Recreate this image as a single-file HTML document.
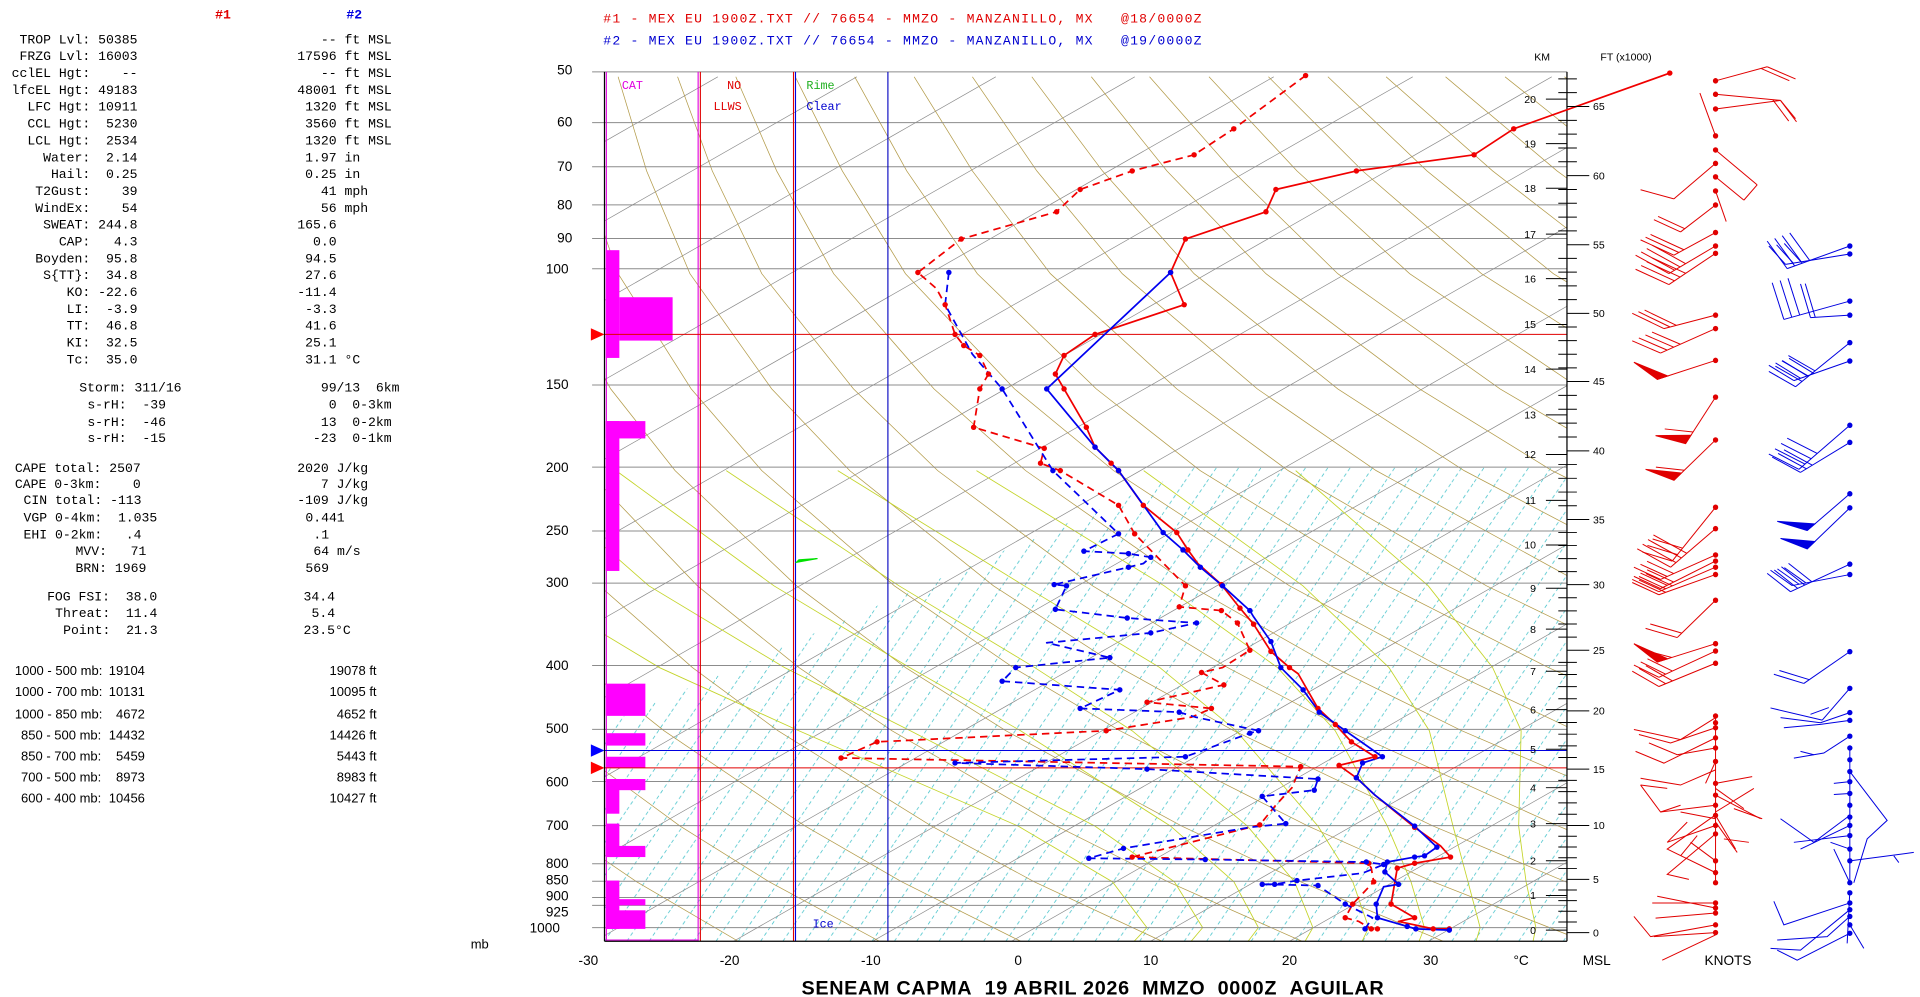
<!DOCTYPE html>
<html><head><meta charset="utf-8"><style>
html,body{margin:0;padding:0;background:#fff;}
svg{display:block}
.m{font-family:"Liberation Mono",monospace;font-size:10.6px;fill:#000}
.s{font-family:"Liberation Sans",sans-serif;font-size:10.5px;fill:#000}
.ax{font-family:"Liberation Sans",sans-serif;font-size:11px;fill:#000}
.sm{font-family:"Liberation Sans",sans-serif;font-size:8.5px;fill:#000}
.r line,.r polyline,.r polygon{vector-effect:non-scaling-stroke;stroke:#e00000;stroke-width:1;fill:none}
.b line,.b polyline,.b polygon{vector-effect:non-scaling-stroke;stroke:#0000e0;stroke-width:1;fill:none}
.r polygon{fill:#e00000}.b polygon{fill:#0000e0}
.r ellipse{fill:#e00000}.b ellipse{fill:#0000e0}
</style></head><body>
<svg xmlns="http://www.w3.org/2000/svg" width="1920" height="997" viewBox="0 0 1550 805" preserveAspectRatio="none">
<defs>
<clipPath id="pc"><rect x="488" y="58" width="777" height="702"/></clipPath>
<pattern id="mix" patternUnits="userSpaceOnUse" x="488" y="760" width="18" height="26.47">
<line x1="0" y1="26.47" x2="18" y2="0" stroke="#3cc0c8" stroke-width="0.6" stroke-dasharray="3,2.5"/>
</pattern>
</defs>
<rect x="0" y="0" width="1550" height="805" fill="#fff"/>

<!-- left panel -->
<text x="180" y="15" class="m" style="fill:#e00000;font-weight:bold" text-anchor="middle">#1</text>
<text x="286" y="15" class="m" style="fill:#0000e0;font-weight:bold" text-anchor="middle">#2</text>
<g class="m" text-anchor="end">
<text x="111" y="35">TROP Lvl: 50385</text>
<text x="111" y="48.6">FRZG Lvl: 16003</text>
<text x="111" y="62.2">cclEL Hgt:&#160;&#160;&#160;&#160;--</text>
<text x="111" y="75.8">lfcEL Hgt: 49183</text>
<text x="111" y="89.4">LFC Hgt: 10911</text>
<text x="111" y="103">CCL Hgt:&#160;&#160;5230</text>
<text x="111" y="116.6">LCL Hgt:&#160;&#160;2534</text>
<text x="111" y="130.2">Water:&#160;&#160;2.14</text>
<text x="111" y="143.8">Hail:&#160;&#160;0.25</text>
<text x="111" y="157.4">T2Gust:&#160;&#160;&#160;&#160;39</text>
<text x="111" y="171">WindEx:&#160;&#160;&#160;&#160;54</text>
<text x="111" y="184.6">SWEAT: 244.8</text>
<text x="111" y="198.2">CAP:&#160;&#160;&#160;4.3</text>
<text x="111" y="211.8">Boyden:&#160;&#160;95.8</text>
<text x="111" y="225.4">S{TT}:&#160;&#160;34.8</text>
<text x="111" y="239">KO: -22.6</text>
<text x="111" y="252.6">LI:&#160;&#160;-3.9</text>
<text x="111" y="266.2">TT:&#160;&#160;46.8</text>
<text x="111" y="279.8">KI:&#160;&#160;32.5</text>
<text x="111" y="293.4">Tc:&#160;&#160;35.0</text>
</g>
<g class="m">
<text x="240" y="35">&#160;&#160;&#160;-- ft MSL</text>
<text x="240" y="48.6">17596 ft MSL</text>
<text x="240" y="62.2">&#160;&#160;&#160;-- ft MSL</text>
<text x="240" y="75.8">48001 ft MSL</text>
<text x="240" y="89.4">&#160;1320 ft MSL</text>
<text x="240" y="103">&#160;3560 ft MSL</text>
<text x="240" y="116.6">&#160;1320 ft MSL</text>
<text x="240" y="130.2">&#160;1.97 in</text>
<text x="240" y="143.8">&#160;0.25 in</text>
<text x="240" y="157.4">&#160;&#160;&#160;41 mph</text>
<text x="240" y="171">&#160;&#160;&#160;56 mph</text>
<text x="240" y="184.6">165.6</text>
<text x="240" y="198.2">&#160;&#160;0.0</text>
<text x="240" y="211.8">&#160;94.5</text>
<text x="240" y="225.4">&#160;27.6</text>
<text x="240" y="239">-11.4</text>
<text x="240" y="252.6">&#160;-3.3</text>
<text x="240" y="266.2">&#160;41.6</text>
<text x="240" y="279.8">&#160;25.1</text>
<text x="240" y="293.4">&#160;31.1 °C</text>

<text x="64" y="316">Storm: 311/16</text>
<text x="70.5" y="330">s-rH:&#160;&#160;-39</text>
<text x="70.5" y="344">s-rH:&#160;&#160;-46</text>
<text x="70.5" y="357">s-rH:&#160;&#160;-15</text>
<text x="259" y="316">99/13&#160;&#160;6km</text>
<text x="259" y="330">&#160;0&#160;&#160;0-3km</text>
<text x="259" y="344">13&#160;&#160;0-2km</text>
<text x="252.6" y="357">-23&#160;&#160;0-1km</text>

<text x="12" y="381">CAPE total: 2507</text>
<text x="12" y="394">CAPE 0-3km:&#160;&#160;&#160;&#160;0</text>
<text x="19" y="407">CIN total: -113</text>
<text x="19" y="421">VGP 0-4km:&#160;&#160;1.035</text>
<text x="19" y="435">EHI 0-2km:&#160;&#160;&#160;.4</text>
<text x="61" y="448">MVV:&#160;&#160;&#160;71</text>
<text x="61" y="462">BRN: 1969</text>
<text x="240" y="381">2020 J/kg</text>
<text x="240" y="394">&#160;&#160;&#160;7 J/kg</text>
<text x="240" y="407">-109 J/kg</text>
<text x="246.5" y="421">0.441</text>
<text x="253" y="435">.1</text>
<text x="253" y="448">64 m/s</text>
<text x="246.5" y="462">569</text>

<text x="38" y="485">FOG FSI:&#160;&#160;38.0</text>
<text x="44.5" y="498">Threat:&#160;&#160;11.4</text>
<text x="51" y="512">Point:&#160;&#160;21.3</text>
<text x="245" y="485">34.4</text>
<text x="251.5" y="498">5.4</text>
<text x="245" y="512">23.5°C</text>
</g>
<g class="s">
<text x="12" y="545">1000 - 500 mb:</text><text x="117" y="545" text-anchor="end">19104</text><text x="304" y="545" text-anchor="end">19078 ft</text>
<text x="12" y="562">1000 - 700 mb:</text><text x="117" y="562" text-anchor="end">10131</text><text x="304" y="562" text-anchor="end">10095 ft</text>
<text x="12" y="580">1000 - 850 mb:</text><text x="117" y="580" text-anchor="end">4672</text><text x="304" y="580" text-anchor="end">4652 ft</text>
<text x="17" y="597">850 - 500 mb:</text><text x="117" y="597" text-anchor="end">14432</text><text x="304" y="597" text-anchor="end">14426 ft</text>
<text x="17" y="614">850 - 700 mb:</text><text x="117" y="614" text-anchor="end">5459</text><text x="304" y="614" text-anchor="end">5443 ft</text>
<text x="17" y="631">700 - 500 mb:</text><text x="117" y="631" text-anchor="end">8973</text><text x="304" y="631" text-anchor="end">8983 ft</text>
<text x="17" y="648">600 - 400 mb:</text><text x="117" y="648" text-anchor="end">10456</text><text x="304" y="648" text-anchor="end">10427 ft</text>
</g>
<text x="380" y="766" class="s">mb</text>

<!-- headers -->
<text x="487" y="18" class="m" style="fill:#e00000" textLength="483">#1 - MEX EU 1900Z.TXT // 76654 - MMZO - MANZANILLO, MX&#160;&#160;&#160;@18/0000Z</text>
<text x="487" y="36" class="m" style="fill:#0000d0" textLength="483">#2 - MEX EU 1900Z.TXT // 76654 - MMZO - MANZANILLO, MX&#160;&#160;&#160;@19/0000Z</text>

<!-- background grid -->
<g clip-path="url(#pc)">
<polygon points="488,585 966,377 1265,377 1265,760 488,760" fill="url(#mix)"/>
<g stroke="#8a8a8a" stroke-width="0.55">
<line x1="-305.4" y1="760" x2="916.1" y2="62"/>
<line x1="-193.2" y1="760" x2="1028.3" y2="62"/>
<line x1="-81" y1="760" x2="1140.5" y2="62"/>
<line x1="31.2" y1="760" x2="1252.7" y2="62"/>
<line x1="143.4" y1="760" x2="1364.9" y2="62"/>
<line x1="255.6" y1="760" x2="1477.1" y2="62"/>
<line x1="367.8" y1="760" x2="1589.3" y2="62"/>
<line x1="480" y1="760" x2="1701.5" y2="62"/>
<line x1="592.2" y1="760" x2="1813.7" y2="62"/>
<line x1="704.4" y1="760" x2="1925.9" y2="62"/>
<line x1="816.6" y1="760" x2="2038.1" y2="62"/>
<line x1="928.8" y1="760" x2="2150.3" y2="62"/>
<line x1="1041" y1="760" x2="2262.5" y2="62"/>
<line x1="1153.2" y1="760" x2="2374.7" y2="62"/>
<line x1="1265.4" y1="760" x2="2486.9" y2="62"/>
<line x1="-417.6" y1="760" x2="803.9" y2="62"/>
<line x1="-529.8" y1="760" x2="691.7" y2="62"/>
<line x1="-642" y1="760" x2="579.5" y2="62"/>
<line x1="-754.2" y1="760" x2="467.3" y2="62"/>
</g>
<g stroke="#b39b4a" stroke-width="0.6" fill="none">
<polyline points="596,760 514,712 448,667 352,590 300,539 245,473 191,380 166,314 150,221 155,138 165,62"/>
<polyline points="710,760 621,712 549,667 444,590 386,539 324,473 261,380 232,314 209,221 207,138 213,62"/>
<polyline points="824,760 728,712 650,667 536,590 472,539 404,473 332,380 297,314 267,221 260,138 260,62"/>
<polyline points="938,760 835,712 752,667 628,590 559,539 484,473 403,380 362,314 325,221 312,138 308,62"/>
<polyline points="1051,760 943,712 853,667 720,590 645,539 563,473 474,380 428,314 383,221 365,138 356,62"/>
<polyline points="1165,760 1050,712 954,667 812,590 731,539 643,473 545,380 493,314 441,221 417,138 404,62"/>
<polyline points="1279,760 1157,712 1056,667 904,590 818,539 722,473 615,380 558,314 499,221 470,138 451,62"/>
<polyline points="1393,760 1264,712 1157,667 996,590 904,539 802,473 686,380 623,314 557,221 522,138 499,62"/>
<polyline points="1507,760 1371,712 1258,667 1088,590 991,539 882,473 757,380 689,314 615,221 575,138 547,62"/>
<polyline points="1620,760 1478,712 1359,667 1180,590 1077,539 961,473 828,380 754,314 673,221 627,138 594,62"/>
<polyline points="1461,667 1272,590 1164,539 1041,473 899,380 819,314 731,221 680,138 642,62"/>
<polyline points="1364,590 1250,539 1120,473 969,380 885,314 789,221 732,138 690,62"/>
<polyline points="1456,590 1336,539 1200,473 1040,380 950,314 848,221 785,138 738,62"/>
<polyline points="1423,539 1280,473 1111,380 1015,314 906,221 837,138 785,62"/>
<polyline points="1509,539 1359,473 1182,380 1080,314 964,221 890,138 833,62"/>
<polyline points="1439,473 1253,380 1146,314 1022,221 942,138 881,62"/>
<polyline points="1518,473 1323,380 1211,314 1080,221 995,138 928,62"/>
<polyline points="1394,380 1276,314 1138,221 1047,138 976,62"/>
<polyline points="1465,380 1342,314 1196,221 1100,138 1024,62"/>
<polyline points="1407,314 1254,221 1152,138 1072,62"/>
<polyline points="1472,314 1312,221 1205,138 1119,62"/>
<polyline points="1370,221 1257,138 1167,62"/>
<polyline points="1428,221 1310,138 1215,62"/>
<polyline points="1486,221 1362,138 1263,62"/>
</g>
<g stroke="#c4d42a" stroke-width="0.7" fill="none">
<polyline points="1237.6,760 1239.9,749 1232,712 1226,667 1228,590 1205,539 1153,473 1046,380"/>
<polyline points="1191.6,760 1194.9,749 1185.1,712 1173,667 1153.9,590 1121.3,539 1051.8,473 923.3,380"/>
<polyline points="1145.6,760 1149.9,749 1139.1,712 1120,667 1077.9,590 1031.3,539 939.8,473 788.3,380"/>
<polyline points="1099.6,760 1104.9,749 1092.1,712 1064,667 997.9,590 936.3,539 826.8,473 676.3,380"/>
<polyline points="1053.6,760 1059.9,749 1045.1,712 1007,667 913.9,590 835.3,539 725.8,473 586.3,380"/>
<polyline points="1007.6,760 1015.9,749 996.1,712 945,667 823.9,590 734.3,539 624.8,473 497.3,380"/>
<polyline points="961.6,760 970.9,749 948.1,712 884,667 734.9,590 633.3,539 523.8,473 418,380"/>
<polyline points="915.6,760 925.9,749 898.1,712 822,667 644.9,590 532.3,539 422.8,473"/>
</g>
</g>

<!-- pressure lines -->
<g stroke="#8c8c8c" stroke-width="0.8">
<line x1="478" y1="58" x2="1265" y2="58"/><line x1="478" y1="99" x2="1265" y2="99"/>
<line x1="478" y1="134.6" x2="1265" y2="134.6"/><line x1="478" y1="165.4" x2="1265" y2="165.4"/>
<line x1="478" y1="192.6" x2="1265" y2="192.6"/><line x1="478" y1="217" x2="1265" y2="217"/>
<line x1="478" y1="310.9" x2="1265" y2="310.9"/><line x1="478" y1="377.2" x2="1265" y2="377.2"/>
<line x1="478" y1="428.7" x2="1265" y2="428.7"/><line x1="478" y1="470.8" x2="1265" y2="470.8"/>
<line x1="478" y1="537.3" x2="1265" y2="537.3"/><line x1="478" y1="588.9" x2="1265" y2="588.9"/>
<line x1="478" y1="631" x2="1265" y2="631"/><line x1="478" y1="666.6" x2="1265" y2="666.6"/>
<line x1="478" y1="697.4" x2="1265" y2="697.4"/><line x1="478" y1="711.5" x2="1265" y2="711.5"/>
<line x1="478" y1="724.7" x2="1265" y2="724.7"/><line x1="478" y1="731" x2="1265" y2="731"/>
<line x1="478" y1="749" x2="1265" y2="749"/>
</g>
<g class="ax" text-anchor="end">
<text x="462" y="60">50</text><text x="462" y="102">60</text><text x="462" y="138">70</text>
<text x="462" y="169">80</text><text x="462" y="196">90</text><text x="459" y="221">100</text>
<text x="459" y="314">150</text><text x="459" y="381">200</text><text x="459" y="432">250</text>
<text x="459" y="474">300</text><text x="459" y="541">400</text><text x="459" y="592">500</text>
<text x="459" y="635">600</text><text x="459" y="670">700</text><text x="459" y="701">800</text>
<text x="459" y="714">850</text><text x="459" y="727">900</text><text x="459" y="740">925</text>
<text x="452" y="753">1000</text>
</g>

<!-- strip -->
<rect x="488" y="58" width="777" height="0.01" fill="none"/>
<g stroke-width="0.9">
<line x1="489.5" y1="58" x2="489.5" y2="760" stroke="#e000e0"/>
<line x1="563.6" y1="58" x2="563.6" y2="760" stroke="#e000e0"/>
<line x1="565.4" y1="58" x2="565.4" y2="760" stroke="#e00000"/>
<line x1="640.6" y1="58" x2="640.6" y2="760" stroke="#e00000"/>
<line x1="642.2" y1="58" x2="642.2" y2="760" stroke="#0000e0"/>
<line x1="716.8" y1="58" x2="716.8" y2="760" stroke="#0000c0"/>
<line x1="489" y1="759" x2="564" y2="759" stroke="#e000e0"/>
</g>
<g fill="#ff00ff">
<rect x="489" y="202" width="11" height="87"/>
<rect x="500" y="240" width="43" height="35"/>
<rect x="489" y="340" width="32" height="14"/>
<rect x="489" y="340" width="11" height="121"/>
<rect x="489" y="552" width="32" height="26"/>
<rect x="489" y="592" width="32" height="10"/>
<rect x="489" y="611" width="32" height="9"/>
<rect x="489" y="629" width="32" height="9"/>
<rect x="489" y="629" width="11" height="28"/>
<rect x="489" y="665" width="11" height="27"/>
<rect x="489" y="683" width="32" height="9"/>
<rect x="489" y="711" width="11" height="39"/>
<rect x="489" y="726" width="32" height="5"/>
<rect x="489" y="735" width="32" height="15"/>
</g>
<text x="502" y="72" class="m" style="fill:#e000e0;font-size:9.5px">CAT</text>
<text x="587" y="72" class="m" style="fill:#e00000;font-size:9.5px">NO</text>
<text x="576" y="89" class="m" style="fill:#e00000;font-size:9.5px">LLWS</text>
<text x="651" y="72" class="m" style="fill:#20b020;font-size:9.5px">Rime</text>
<text x="651" y="89" class="m" style="fill:#0000d0;font-size:9.5px">Clear</text>
<text x="656" y="749" class="m" style="fill:#0000d0;font-size:9.5px">Ice</text>
<polygon points="643,454 660,451 645,452" fill="#00e000" stroke="#00e000" stroke-width="1"/>

<!-- markers -->
<line x1="488" y1="270" x2="1265" y2="270" stroke="#e00000" stroke-width="0.8"/>
<line x1="488" y1="606" x2="1265" y2="606" stroke="#0000e0" stroke-width="0.8"/>
<line x1="488" y1="620" x2="1265" y2="620" stroke="#e00000" stroke-width="0.8"/>
<polygon points="477,265 488,270 477,275" fill="#ff0000"/>
<polygon points="477,601 488,606 477,611" fill="#0000ff"/>
<polygon points="477,615 488,620 477,625" fill="#ff0000"/>

<!-- frame -->
<line x1="488" y1="58" x2="488" y2="760" stroke="#000" stroke-width="1"/>
<line x1="488" y1="760" x2="1265" y2="760" stroke="#000" stroke-width="1"/>
<line x1="1265" y1="58" x2="1265" y2="760" stroke="#000" stroke-width="1"/>

<!-- traces -->
<g fill="none" stroke-width="1.4" stroke-linejoin="round">
<polyline stroke="#f00000" stroke-dasharray="6,4" points="1054,61 996,104 964,125 914,138 872,153 853,171 776,193 741,220 756,233 763,246 771,270 778,279 791,287 798,302 791,314 786,345 843,362 840,374 856,380 903,408 916,431 957,473 952,490 986,493 999,503 1009,525 987,539 970,543 988,553 926,567 978,572 962,579 893,590 708,599 679,612 1050,619 1043,636 1030,650 1017,666 914,692 1105,697 1107,701 1109,712 1092,730 1086,741 1097,744 1107,750 1112,750"/>
<polyline stroke="#0000f0" stroke-dasharray="6,4" points="766,220 763,246 785,286 809,314 850,380 903,431 875,445 911,447 929,450 923,455 911,458 851,472 861,473 852,492 910,499 966,503 929,511 845,519 896,531 820,539 809,550 904,557 872,572 952,575 965,579 1016,590 1009,592 957,611 771,616 926,621 1064,629 1061,638 1019,643 1038,665 1009,668 907,685 879,693 973,694 1103,696 1117,698 1100,705 1047,711 1029,714 1019,714 1064,715 1086,730 1108,741 1102,750"/>
<polyline stroke="#f00000" points="1348,59 1222,104 1190,125 1095,138 1030,153 1022,171 957,193 945,220 956,246 884,270 859,287 852,302 859,314 877,345 884,361 897,374 903,380 923,408 950,430 959,444 967,455 986,472 1001,491 1012,504 1026,526 1041,539 1048,544 1064,572 1078,585 1091,599 1110,611 1081,618 1095,628 1110,642 1142,668 1163,683 1171,692 1142,697 1128,701 1123,730 1142,741 1129,744 1157,750 1170,750"/>
<polyline stroke="#0000f0" points="945,220 845,314 884,361 903,380 939,430 955,444 969,458 987,473 1009,493 1012,498 1026,518 1034,539 1052,557 1065,575 1086,590 1116,611 1100,616 1095,628 1110,642 1142,667 1160,684 1150,691 1142,692 1120,696 1118,704 1129,714 1117,716 1111,730 1112,741 1136,748 1143,750 1170,751"/>
</g>
<g fill="#f00000">
<circle cx="1054" cy="61" r="2.2"/><circle cx="996" cy="104" r="2.2"/><circle cx="964" cy="125" r="2.2"/><circle cx="914" cy="138" r="2.2"/><circle cx="872" cy="153" r="2.2"/><circle cx="853" cy="171" r="2.2"/><circle cx="776" cy="193" r="2.2"/><circle cx="741" cy="220" r="2.2"/><circle cx="763" cy="246" r="2.2"/><circle cx="771" cy="270" r="2.2"/><circle cx="778" cy="279" r="2.2"/><circle cx="791" cy="287" r="2.2"/><circle cx="798" cy="302" r="2.2"/><circle cx="791" cy="314" r="2.2"/><circle cx="786" cy="345" r="2.2"/><circle cx="843" cy="362" r="2.2"/><circle cx="840" cy="374" r="2.2"/><circle cx="856" cy="380" r="2.2"/><circle cx="903" cy="408" r="2.2"/><circle cx="916" cy="431" r="2.2"/><circle cx="957" cy="473" r="2.2"/><circle cx="952" cy="490" r="2.2"/><circle cx="986" cy="493" r="2.2"/><circle cx="999" cy="503" r="2.2"/><circle cx="1009" cy="525" r="2.2"/><circle cx="970" cy="543" r="2.2"/><circle cx="988" cy="553" r="2.2"/><circle cx="926" cy="567" r="2.2"/><circle cx="978" cy="572" r="2.2"/><circle cx="893" cy="590" r="2.2"/><circle cx="708" cy="599" r="2.2"/><circle cx="679" cy="612" r="2.2"/><circle cx="1050" cy="619" r="2.2"/><circle cx="1017" cy="666" r="2.2"/><circle cx="914" cy="692" r="2.2"/><circle cx="1105" cy="697" r="2.2"/><circle cx="1109" cy="712" r="2.2"/><circle cx="1092" cy="730" r="2.2"/><circle cx="1086" cy="741" r="2.2"/><circle cx="1107" cy="750" r="2.2"/><circle cx="1112" cy="750" r="2.2"/>
<circle cx="1348" cy="59" r="2.2"/><circle cx="1222" cy="104" r="2.2"/><circle cx="1190" cy="125" r="2.2"/><circle cx="1095" cy="138" r="2.2"/><circle cx="1030" cy="153" r="2.2"/><circle cx="1022" cy="171" r="2.2"/><circle cx="957" cy="193" r="2.2"/><circle cx="945" cy="220" r="2.2"/><circle cx="956" cy="246" r="2.2"/><circle cx="884" cy="270" r="2.2"/><circle cx="859" cy="287" r="2.2"/><circle cx="852" cy="302" r="2.2"/><circle cx="859" cy="314" r="2.2"/><circle cx="877" cy="345" r="2.2"/><circle cx="884" cy="361" r="2.2"/><circle cx="897" cy="374" r="2.2"/><circle cx="903" cy="380" r="2.2"/><circle cx="923" cy="408" r="2.2"/><circle cx="950" cy="430" r="2.2"/><circle cx="959" cy="444" r="2.2"/><circle cx="986" cy="472" r="2.2"/><circle cx="1001" cy="491" r="2.2"/><circle cx="1012" cy="504" r="2.2"/><circle cx="1026" cy="526" r="2.2"/><circle cx="1041" cy="539" r="2.2"/><circle cx="1064" cy="572" r="2.2"/><circle cx="1078" cy="585" r="2.2"/><circle cx="1091" cy="599" r="2.2"/><circle cx="1110" cy="611" r="2.2"/><circle cx="1081" cy="618" r="2.2"/><circle cx="1095" cy="628" r="2.2"/><circle cx="1142" cy="668" r="2.2"/><circle cx="1171" cy="692" r="2.2"/><circle cx="1142" cy="697" r="2.2"/><circle cx="1128" cy="701" r="2.2"/><circle cx="1123" cy="730" r="2.2"/><circle cx="1142" cy="741" r="2.2"/><circle cx="1157" cy="750" r="2.2"/><circle cx="1170" cy="750" r="2.2"/>
</g>
<g fill="#0000f0">
<circle cx="766" cy="220" r="2.2"/><circle cx="809" cy="314" r="2.2"/><circle cx="850" cy="380" r="2.2"/><circle cx="903" cy="431" r="2.2"/><circle cx="875" cy="445" r="2.2"/><circle cx="911" cy="447" r="2.2"/><circle cx="929" cy="450" r="2.2"/><circle cx="911" cy="458" r="2.2"/><circle cx="851" cy="472" r="2.2"/><circle cx="861" cy="473" r="2.2"/><circle cx="852" cy="492" r="2.2"/><circle cx="910" cy="499" r="2.2"/><circle cx="966" cy="503" r="2.2"/><circle cx="929" cy="511" r="2.2"/><circle cx="896" cy="531" r="2.2"/><circle cx="820" cy="539" r="2.2"/><circle cx="809" cy="550" r="2.2"/><circle cx="904" cy="557" r="2.2"/><circle cx="872" cy="572" r="2.2"/><circle cx="952" cy="575" r="2.2"/><circle cx="1016" cy="590" r="2.2"/><circle cx="1009" cy="592" r="2.2"/><circle cx="957" cy="611" r="2.2"/><circle cx="771" cy="616" r="2.2"/><circle cx="926" cy="621" r="2.2"/><circle cx="1064" cy="629" r="2.2"/><circle cx="1061" cy="638" r="2.2"/><circle cx="1019" cy="643" r="2.2"/><circle cx="1038" cy="665" r="2.2"/><circle cx="907" cy="685" r="2.2"/><circle cx="879" cy="693" r="2.2"/><circle cx="973" cy="694" r="2.2"/><circle cx="1103" cy="696" r="2.2"/><circle cx="1117" cy="698" r="2.2"/><circle cx="1047" cy="711" r="2.2"/><circle cx="1029" cy="714" r="2.2"/><circle cx="1019" cy="714" r="2.2"/><circle cx="1064" cy="715" r="2.2"/><circle cx="1086" cy="730" r="2.2"/><circle cx="1102" cy="750" r="2.2"/>
<circle cx="945" cy="220" r="2.2"/><circle cx="845" cy="314" r="2.2"/><circle cx="884" cy="361" r="2.2"/><circle cx="903" cy="380" r="2.2"/><circle cx="939" cy="430" r="2.2"/><circle cx="955" cy="444" r="2.2"/><circle cx="969" cy="458" r="2.2"/><circle cx="987" cy="473" r="2.2"/><circle cx="1009" cy="493" r="2.2"/><circle cx="1026" cy="518" r="2.2"/><circle cx="1034" cy="539" r="2.2"/><circle cx="1052" cy="557" r="2.2"/><circle cx="1065" cy="575" r="2.2"/><circle cx="1086" cy="590" r="2.2"/><circle cx="1116" cy="611" r="2.2"/><circle cx="1100" cy="616" r="2.2"/><circle cx="1095" cy="628" r="2.2"/><circle cx="1142" cy="667" r="2.2"/><circle cx="1160" cy="684" r="2.2"/><circle cx="1150" cy="691" r="2.2"/><circle cx="1142" cy="692" r="2.2"/><circle cx="1120" cy="696" r="2.2"/><circle cx="1118" cy="704" r="2.2"/><circle cx="1129" cy="714" r="2.2"/><circle cx="1111" cy="730" r="2.2"/><circle cx="1112" cy="741" r="2.2"/><circle cx="1136" cy="748" r="2.2"/><circle cx="1143" cy="750" r="2.2"/><circle cx="1170" cy="751" r="2.2"/>
</g>

<!-- right axes -->
<g stroke="#000" stroke-width="0.8">
<path d="M1248 751h17M1248 723h17M1248 695h17M1248 665h17M1248 636h17M1248 605h17M1248 573h17M1248 542h17M1248 508h17M1248 475h17M1248 440h17M1248 404h17M1248 367h17M1248 335h17M1248 298h17M1248 262h17M1248 225h17M1248 189h17M1248 152h17M1248 116h17M1248 80h17"/>
<path d="M1265 753h18M1265 710h18M1265 666.5h18M1265 621h18M1265 574h18M1265 525h18M1265 472h18M1265 419.5h18M1265 364h18M1265 308h18M1265 253h18M1265 197.6h18M1265 141.8h18M1265 86h18"/>
<path d="M1258 744.4h15M1258 735.8h15M1258 727.2h15M1258 718.6h15M1258 701.3h15M1258 692.6h15M1258 683.9h15M1258 675.2h15M1258 657.4h15M1258 648.3h15M1258 639.2h15M1258 630.1h15M1258 611.6h15M1258 602.2h15M1258 592.8h15M1258 583.4h15M1258 564.2h15M1258 554.4h15M1258 544.6h15M1258 534.8h15M1258 514.4h15M1258 503.8h15M1258 493.2h15M1258 482.6h15M1258 461.5h15M1258 451h15M1258 440.5h15M1258 430h15M1258 408.4h15M1258 397.3h15M1258 386.2h15M1258 375.1h15M1258 352.8h15M1258 341.6h15M1258 330.4h15M1258 319.2h15M1258 297h15M1258 286h15M1258 275h15M1258 264h15M1258 241.9h15M1258 230.8h15M1258 219.7h15M1258 208.6h15M1258 186.4h15M1258 175.3h15M1258 164.1h15M1258 153h15M1258 130.6h15M1258 119.5h15M1258 108.3h15M1258 97.2h15M1258 74.8h15M1258 63.7h15"/>
</g>
<g class="sm" text-anchor="end">
<text x="1240" y="754">0</text><text x="1240" y="726">1</text><text x="1240" y="698">2</text><text x="1240" y="668">3</text><text x="1240" y="639">4</text><text x="1240" y="608">5</text><text x="1240" y="576">6</text><text x="1240" y="545">7</text><text x="1240" y="511">8</text><text x="1240" y="478">9</text><text x="1240" y="443">10</text><text x="1240" y="407">11</text><text x="1240" y="370">12</text><text x="1240" y="338">13</text><text x="1240" y="301">14</text><text x="1240" y="265">15</text><text x="1240" y="228">16</text><text x="1240" y="192">17</text><text x="1240" y="155">18</text><text x="1240" y="119">19</text><text x="1240" y="83">20</text>
</g>
<g class="sm">
<text x="1286" y="756">0</text><text x="1286" y="713">5</text><text x="1286" y="669.5">10</text><text x="1286" y="624">15</text><text x="1286" y="577">20</text><text x="1286" y="528">25</text><text x="1286" y="475">30</text><text x="1286" y="422.5">35</text><text x="1286" y="367">40</text><text x="1286" y="311">45</text><text x="1286" y="256">50</text><text x="1286" y="200.6">55</text><text x="1286" y="144.8">60</text><text x="1286" y="89">65</text>
</g>

<!-- wind barbs upper (zoom3 coords) -->
<g transform="translate(1276,33.14) scale(0.269,0.494)">
<g class="r">
<line x1="405" y1="65" x2="560" y2="42"/><line x1="560" y1="42" x2="645" y2="62"/><line x1="541.4" y1="44.8" x2="626.4" y2="64.8"/>
<line x1="405" y1="87" x2="600" y2="97"/><line x1="600" y1="97" x2="648" y2="132"/><line x1="576.6" y1="95.8" x2="624.6" y2="130.8"/>
<line x1="405" y1="111" x2="600" y2="97"/><line x1="600" y1="97" x2="645" y2="127"/>
<line x1="405" y1="155" x2="358" y2="85"/>
<line x1="405" y1="178" x2="530" y2="235"/><line x1="530" y1="235" x2="490" y2="260"/>
<line x1="405" y1="200" x2="280" y2="258"/><line x1="280" y1="258" x2="180" y2="243"/>
<line x1="405" y1="222" x2="490" y2="260"/><line x1="405" y1="245" x2="437" y2="295"/>
<line x1="405" y1="268" x2="300" y2="312"/><line x1="300" y1="312" x2="220" y2="292"/><line x1="312.6" y1="306.7" x2="232.6" y2="286.7"/>
<line x1="405" y1="313" x2="280" y2="350"/><line x1="280" y1="350" x2="180" y2="325"/><line x1="295" y1="345.6" x2="195" y2="320.6"/><line x1="310" y1="341.1" x2="210" y2="316.1"/>
<line x1="405" y1="335" x2="265" y2="380"/><line x1="265" y1="380" x2="165" y2="350"/><line x1="281.8" y1="374.6" x2="181.8" y2="344.6"/><line x1="298.6" y1="369.2" x2="198.6" y2="339.2"/><line x1="315.4" y1="363.8" x2="215.4" y2="333.8"/>
<line x1="405" y1="347" x2="265" y2="398"/><line x1="265" y1="398" x2="165" y2="373"/><line x1="281.8" y1="391.9" x2="181.8" y2="366.9"/><line x1="298.6" y1="385.8" x2="198.6" y2="360.8"/><line x1="315.4" y1="379.6" x2="215.4" y2="354.6"/>
<line x1="405" y1="448" x2="250" y2="470"/><line x1="250" y1="470" x2="155" y2="445"/><line x1="268.6" y1="467.4" x2="173.6" y2="442.4"/><line x1="287.2" y1="464.7" x2="192.2" y2="439.7"/>
<line x1="405" y1="470" x2="240" y2="510"/><line x1="240" y1="510" x2="155" y2="490"/><line x1="259.8" y1="505.2" x2="174.8" y2="485.2"/><line x1="279.6" y1="500.4" x2="194.6" y2="480.4"/><line x1="299.4" y1="495.6" x2="214.4" y2="475.6"/>
<line x1="405" y1="522" x2="230" y2="553"/><polygon points="230,553 160,525 261.5,547.4"/>
<line x1="405" y1="582" x2="315" y2="658"/><polygon points="315,658 225,645 331.2,644.3"/><line x1="337.5" y1="639" x2="252.5" y2="634"/>
<line x1="405" y1="652" x2="280" y2="718"/><polygon points="280,718 195,700 302.5,706.1"/><line x1="311" y1="701.5" x2="226" y2="696.5"/>
<line x1="405" y1="762" x2="275" y2="850"/><line x1="275" y1="850" x2="185" y2="835"/><line x1="290.6" y1="839.4" x2="200.6" y2="824.4"/><line x1="306.2" y1="828.9" x2="216.2" y2="813.9"/>
<line x1="405" y1="797" x2="270" y2="860"/><line x1="270" y1="860" x2="170" y2="830"/><line x1="286.2" y1="852.4" x2="186.2" y2="822.4"/><line x1="302.4" y1="844.9" x2="202.4" y2="814.9"/><line x1="318.6" y1="837.3" x2="218.6" y2="807.3"/>
<line x1="405" y1="840" x2="240" y2="880"/><line x1="240" y1="880" x2="160" y2="860"/><line x1="259.8" y1="875.2" x2="179.8" y2="855.2"/><line x1="279.6" y1="870.4" x2="199.6" y2="850.4"/>
<line x1="405" y1="850" x2="240" y2="895"/><line x1="240" y1="895" x2="160" y2="875"/><line x1="259.8" y1="889.6" x2="179.8" y2="869.6"/><line x1="279.6" y1="884.2" x2="199.6" y2="864.2"/>
<line x1="405" y1="860" x2="235" y2="900"/><line x1="235" y1="900" x2="155" y2="880"/><line x1="255.4" y1="895.2" x2="175.4" y2="875.2"/><line x1="275.8" y1="890.4" x2="195.8" y2="870.4"/>
<line x1="405" y1="872" x2="235" y2="905"/><line x1="235" y1="905" x2="155" y2="885"/><line x1="255.4" y1="901" x2="175.4" y2="881"/>
<line x1="405" y1="914" x2="290" y2="975"/><line x1="290" y1="975" x2="195" y2="960"/><line x1="303.8" y1="967.7" x2="208.8" y2="952.7"/>
<line x1="405" y1="985" x2="230" y2="1015"/><polygon points="230,1015 160,985 261.5,1009.6"/><line x1="273.75" y1="1007.5" x2="203.75" y2="997.5"/>
<line x1="405" y1="997" x2="235" y2="1040"/><line x1="235" y1="1040" x2="160" y2="1020"/><line x1="255.4" y1="1034.8" x2="180.4" y2="1014.8"/><line x1="275.8" y1="1029.7" x2="200.8" y2="1009.7"/>
<line x1="405" y1="1017" x2="235" y2="1055"/><line x1="235" y1="1055" x2="155" y2="1030"/><line x1="255.4" y1="1050.4" x2="175.4" y2="1025.4"/><line x1="275.8" y1="1045.9" x2="195.8" y2="1020.9"/>
<ellipse cx="405" cy="65" rx="8" ry="4.5"/><ellipse cx="405" cy="87" rx="8" ry="4.5"/><ellipse cx="405" cy="111" rx="8" ry="4.5"/><ellipse cx="405" cy="155" rx="8" ry="4.5"/><ellipse cx="405" cy="178" rx="8" ry="4.5"/><ellipse cx="405" cy="200" rx="8" ry="4.5"/><ellipse cx="405" cy="222" rx="8" ry="4.5"/><ellipse cx="405" cy="245" rx="8" ry="4.5"/><ellipse cx="405" cy="268" rx="8" ry="4.5"/><ellipse cx="405" cy="313" rx="8" ry="4.5"/><ellipse cx="405" cy="335" rx="8" ry="4.5"/><ellipse cx="405" cy="347" rx="8" ry="4.5"/><ellipse cx="405" cy="448" rx="8" ry="4.5"/><ellipse cx="405" cy="470" rx="8" ry="4.5"/><ellipse cx="405" cy="522" rx="8" ry="4.5"/><ellipse cx="405" cy="582" rx="8" ry="4.5"/><ellipse cx="405" cy="652" rx="8" ry="4.5"/><ellipse cx="405" cy="762" rx="8" ry="4.5"/><ellipse cx="405" cy="797" rx="8" ry="4.5"/><ellipse cx="405" cy="840" rx="8" ry="4.5"/><ellipse cx="405" cy="850" rx="8" ry="4.5"/><ellipse cx="405" cy="860" rx="8" ry="4.5"/><ellipse cx="405" cy="872" rx="8" ry="4.5"/><ellipse cx="405" cy="914" rx="8" ry="4.5"/><ellipse cx="405" cy="985" rx="8" ry="4.5"/><ellipse cx="405" cy="997" rx="8" ry="4.5"/><ellipse cx="405" cy="1017" rx="8" ry="4.5"/>
</g>
<g class="b">
<line x1="808" y1="335" x2="620" y2="372"/><line x1="620" y1="372" x2="560" y2="327"/><line x1="642.6" y1="367.6" x2="582.6" y2="322.6"/><line x1="665.1" y1="363.1" x2="605.1" y2="318.1"/><line x1="687.7" y1="358.7" x2="627.7" y2="313.7"/>
<line x1="808" y1="348" x2="615" y2="365"/><line x1="615" y1="365" x2="565" y2="335"/><line x1="638.2" y1="363" x2="588.2" y2="333"/><line x1="661.3" y1="360.9" x2="611.3" y2="330.9"/>
<line x1="808" y1="425" x2="610" y2="455"/><line x1="610" y1="455" x2="575" y2="395"/><line x1="633.8" y1="451.4" x2="598.8" y2="391.4"/><line x1="657.5" y1="447.8" x2="622.5" y2="387.8"/>
<line x1="808" y1="448" x2="690" y2="452"/><line x1="690" y1="452" x2="660" y2="397"/><line x1="704.2" y1="451.5" x2="674.2" y2="396.5"/>
<line x1="808" y1="493" x2="645" y2="565"/><line x1="645" y1="565" x2="565" y2="540"/><line x1="664.6" y1="556.4" x2="584.6" y2="531.4"/><line x1="684.1" y1="547.7" x2="604.1" y2="522.7"/><line x1="703.7" y1="539.1" x2="623.7" y2="514.1"/>
<line x1="808" y1="523" x2="640" y2="555"/><line x1="640" y1="555" x2="565" y2="530"/><line x1="660.2" y1="551.2" x2="585.2" y2="526.2"/><line x1="680.3" y1="547.3" x2="605.3" y2="522.3"/><line x1="700.5" y1="543.5" x2="625.5" y2="518.5"/>
<line x1="808" y1="628" x2="655" y2="700"/><line x1="655" y1="700" x2="565" y2="675"/><line x1="673.4" y1="691.4" x2="583.4" y2="666.4"/><line x1="691.7" y1="682.7" x2="601.7" y2="657.7"/><line x1="710.1" y1="674.1" x2="620.1" y2="649.1"/>
<line x1="808" y1="656" x2="660" y2="705"/><line x1="660" y1="705" x2="575" y2="680"/><line x1="677.8" y1="699.1" x2="592.8" y2="674.1"/><line x1="695.5" y1="693.2" x2="610.5" y2="668.2"/>
<line x1="808" y1="740" x2="680" y2="800"/><polygon points="680,800 590,785 703,789.2"/>
<line x1="808" y1="763" x2="680" y2="830"/><polygon points="680,830 600,813 703,818"/>
<line x1="808" y1="855" x2="630" y2="900"/><line x1="630" y1="900" x2="560" y2="870"/><line x1="651.4" y1="894.6" x2="581.4" y2="864.6"/><line x1="672.7" y1="889.2" x2="602.7" y2="859.2"/><line x1="694.1" y1="883.8" x2="624.1" y2="853.8"/>
<line x1="808" y1="872" x2="635" y2="890"/><line x1="635" y1="890" x2="570" y2="865"/><line x1="655.8" y1="887.8" x2="590.8" y2="862.8"/><line x1="676.5" y1="885.7" x2="611.5" y2="860.7"/>
<line x1="808" y1="998" x2="670" y2="1050"/><line x1="670" y1="1050" x2="580" y2="1035"/><line x1="686.6" y1="1043.8" x2="596.6" y2="1028.8"/>
<line x1="808" y1="1058" x2="725" y2="1110"/><line x1="725" y1="1110" x2="570" y2="1090"/>
<ellipse cx="808" cy="335" rx="8" ry="4.5"/><ellipse cx="808" cy="348" rx="8" ry="4.5"/><ellipse cx="808" cy="425" rx="8" ry="4.5"/><ellipse cx="808" cy="448" rx="8" ry="4.5"/><ellipse cx="808" cy="493" rx="8" ry="4.5"/><ellipse cx="808" cy="523" rx="8" ry="4.5"/><ellipse cx="808" cy="628" rx="8" ry="4.5"/><ellipse cx="808" cy="656" rx="8" ry="4.5"/><ellipse cx="808" cy="740" rx="8" ry="4.5"/><ellipse cx="808" cy="763" rx="8" ry="4.5"/><ellipse cx="808" cy="855" rx="8" ry="4.5"/><ellipse cx="808" cy="872" rx="8" ry="4.5"/><ellipse cx="808" cy="998" rx="8" ry="4.5"/><ellipse cx="808" cy="1058" rx="8" ry="4.5"/>
</g>
</g>

<!-- wind barbs lower (zoom7 coords) -->
<g transform="translate(1276,571.3) scale(0.269,0.272)">
<g class="r">
<polyline points="405,30 300,95 160,65"/><polyline points="405,60 270,105 175,80"/><polyline points="405,90 250,165 165,130"/><polyline points="405,120 290,140 205,105"/><polyline points="405,160 375,225"/><polyline points="405,185 300,230 180,210"/><polyline points="405,225 515,205"/><polyline points="405,260 540,330"/><polyline points="405,290 240,310 180,230"/><polyline points="405,320 465,420"/><polyline points="405,350 260,400 320,340"/><polyline points="405,375 260,495 325,510"/><polyline points="405,455 330,400"/><polyline points="405,490 260,420 410,315"/><polyline points="405,580 215,580"/><polyline points="405,595 230,560"/><polyline points="405,610 225,625"/><polyline points="405,645 210,680 160,620"/><polyline points="405,668 220,680"/><polyline points="405,675 245,750"/><polyline points="405,25 405,520"/><polyline points="430,390 505,400"/><polyline points="460,300 545,330"/><polyline points="405,310 520,240"/><polyline points="260,240 180,230"/><polyline points="300,290 240,310"/><polyline points="405,330 300,310"/><polyline points="350,380 300,440"/><polyline points="405,340 470,430"/><polyline points="405,240 490,300"/>
<ellipse cx="405" cy="25" rx="8" ry="8"/><ellipse cx="405" cy="45" rx="8" ry="8"/><ellipse cx="405" cy="60" rx="8" ry="8"/><ellipse cx="405" cy="90" rx="8" ry="8"/><ellipse cx="405" cy="120" rx="8" ry="8"/><ellipse cx="405" cy="160" rx="8" ry="8"/><ellipse cx="405" cy="225" rx="8" ry="8"/><ellipse cx="405" cy="260" rx="8" ry="8"/><ellipse cx="405" cy="290" rx="8" ry="8"/><ellipse cx="405" cy="320" rx="8" ry="8"/><ellipse cx="405" cy="350" rx="8" ry="8"/><ellipse cx="405" cy="375" rx="8" ry="8"/><ellipse cx="405" cy="455" rx="8" ry="8"/><ellipse cx="405" cy="490" rx="8" ry="8"/><ellipse cx="405" cy="520" rx="8" ry="8"/><ellipse cx="405" cy="580" rx="8" ry="8"/><ellipse cx="405" cy="595" rx="8" ry="8"/><ellipse cx="405" cy="610" rx="8" ry="8"/><ellipse cx="405" cy="645" rx="8" ry="8"/><ellipse cx="405" cy="668" rx="8" ry="8"/>
</g>
<g class="b">
<polyline points="808,15 720,45 600,30"/><polyline points="808,38 720,50 610,60"/><polyline points="808,85 730,135 640,150"/><polyline points="808,120 808,520"/><polyline points="808,190 920,335 860,390 820,520"/><polyline points="808,220 760,225"/><polyline points="808,255 760,258"/><polyline points="808,320 700,400 600,330"/><polyline points="808,350 660,420"/><polyline points="808,380 640,400"/><polyline points="808,420 750,400"/><polyline points="808,455 1000,430"/><polyline points="808,520 760,420"/><polyline points="808,545 800,700"/><polyline points="808,580 610,645 580,575"/><polyline points="808,600 660,720 570,715"/><polyline points="808,620 740,680 590,690"/><polyline points="808,645 850,715"/><polyline points="808,670 650,750 590,720"/><polyline points="940,440 955,460"/><polyline points="690,20 745,0"/><polyline points="660,130 700,140"/>
<ellipse cx="808" cy="15" rx="8" ry="8"/><ellipse cx="808" cy="38" rx="8" ry="8"/><ellipse cx="808" cy="85" rx="8" ry="8"/><ellipse cx="808" cy="120" rx="8" ry="8"/><ellipse cx="808" cy="155" rx="8" ry="8"/><ellipse cx="808" cy="190" rx="8" ry="8"/><ellipse cx="808" cy="220" rx="8" ry="8"/><ellipse cx="808" cy="255" rx="8" ry="8"/><ellipse cx="808" cy="290" rx="8" ry="8"/><ellipse cx="808" cy="325" rx="8" ry="8"/><ellipse cx="808" cy="350" rx="8" ry="8"/><ellipse cx="808" cy="380" rx="8" ry="8"/><ellipse cx="808" cy="420" rx="8" ry="8"/><ellipse cx="808" cy="455" rx="8" ry="8"/><ellipse cx="808" cy="520" rx="8" ry="8"/><ellipse cx="808" cy="550" rx="8" ry="8"/><ellipse cx="808" cy="580" rx="8" ry="8"/><ellipse cx="808" cy="600" rx="8" ry="8"/><ellipse cx="808" cy="620" rx="8" ry="8"/><ellipse cx="808" cy="645" rx="8" ry="8"/><ellipse cx="808" cy="670" rx="8" ry="8"/>
</g>
</g>

<g class="ax" text-anchor="middle">
<text x="475" y="779">-30</text><text x="589" y="779">-20</text><text x="703" y="779">-10</text>
<text x="822" y="779">0</text><text x="929" y="779">10</text><text x="1041" y="779">20</text>
<text x="1155" y="779">30</text><text x="1228" y="779">°C</text><text x="1289" y="779">MSL</text>
<text x="1395" y="779">KNOTS</text>
</g>
<text x="1245" y="49" class="sm" text-anchor="middle">KM</text>
<text x="1292" y="49" class="sm">FT (x1000)</text>
<text x="882" y="803" text-anchor="middle" style="font-family:'Liberation Sans',sans-serif;font-weight:bold;font-size:16px" textLength="470">SENEAM CAPMA&#160;&#160;19 ABRIL 2026&#160;&#160;MMZO&#160;&#160;0000Z&#160;&#160;AGUILAR</text>
</svg>
</body></html>
